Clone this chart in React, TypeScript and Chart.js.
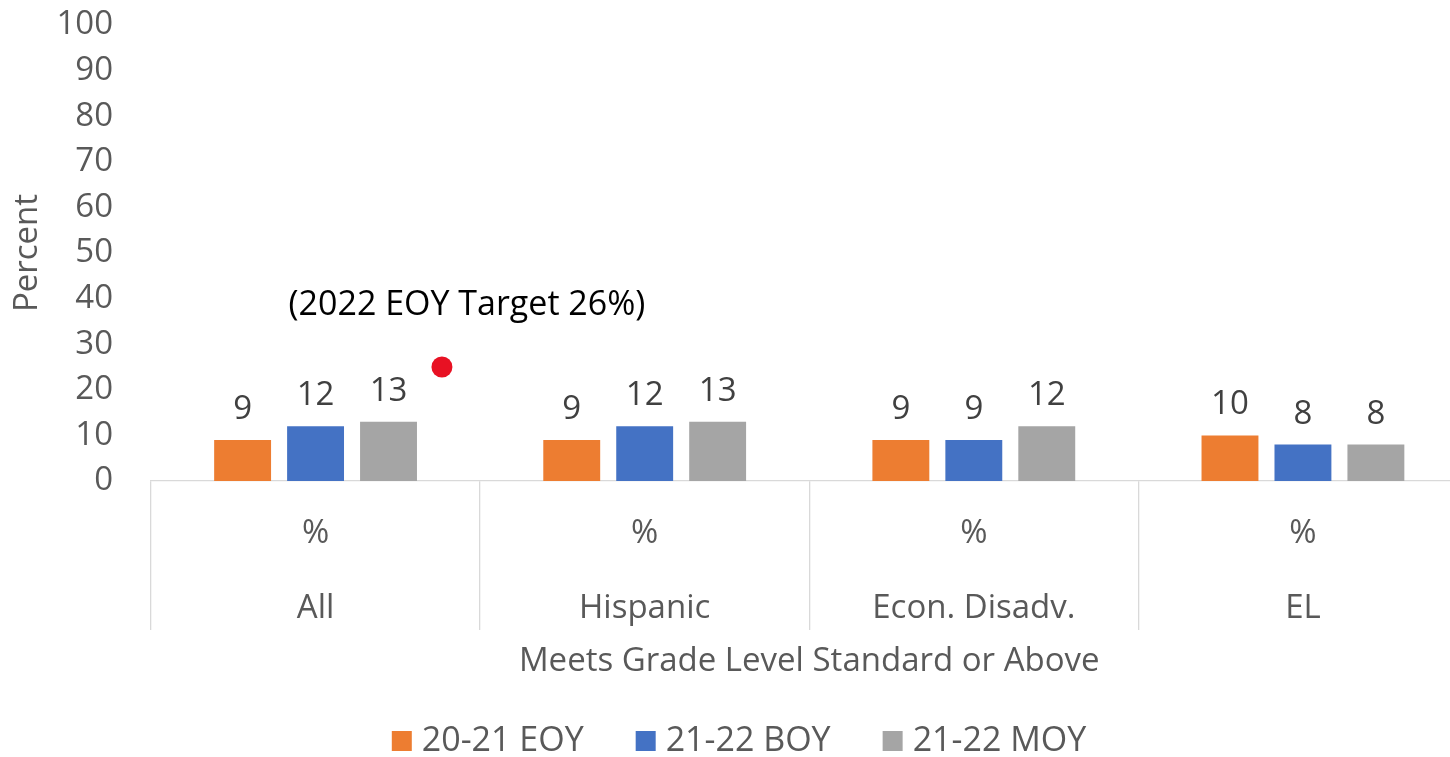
import React, { useEffect, useRef } from "react";
import { Chart, registerables } from "chart.js";

Chart.register(...registerables);

const FONT = "'Open Sans', 'Noto Sans', sans-serif";

const categories = ["All", "Hispanic", "Econ. Disadv.", "EL"];
const subLabel = "%";
const seriesNames = ["20-21 EOY", "21-22 BOY", "21-22 MOY"];
const eoy2021 = [9, 9, 9, 10];
const boy2122 = [12, 12, 9, 8];
const moy2122 = [13, 13, 12, 8];
const seriesColors = ["#ED7D31", "#4472C4", "#A5A5A5"];
const yMin = 0;
const yMax = 100;
const yStep = 10;
const targetValue = 25;
const targetPosition = 0.384;
const targetColor = "#E81123";
const targetLabel = "(2022 EOY Target 26%)";
const xAxisTitle = "Meets Grade Level Standard or Above";
const yAxisTitle = "Percent";

const valueLabels = {
  id: "valueLabels",
  afterDatasetsDraw(chart: any) {
    const ctx = chart.ctx;
    ctx.save();
    ctx.font = `33px ${FONT}`;
    ctx.fillStyle = "#404040";
    ctx.textAlign = "center";
    ctx.textBaseline = "alphabetic";
    chart.data.datasets.forEach((ds: any, di: number) => {
      const meta = chart.getDatasetMeta(di);
      meta.data.forEach((el: any, i: number) => {
        ctx.fillText(String(ds.data[i]), el.x, el.y - 21);
      });
    });
    // target marker and annotation, positioned through the chart's scales
    const xs = chart.scales.x;
    const ys = chart.scales.y;
    const px = xs.getPixelForValue(targetPosition);
    const py = ys.getPixelForValue(targetValue);
    ctx.fillStyle = targetColor;
    ctx.beginPath();
    ctx.arc(px, py, 10.5, 0, Math.PI * 2);
    ctx.fill();
    ctx.fillStyle = "#000000";
    ctx.font = `34px ${FONT}`;
    ctx.fillText(targetLabel, px + 25, py - 52);
    ctx.restore();
  },
};

const customLegend = {
  id: "customLegend",
  afterDraw(chart: any) {
    const ctx = chart.ctx;
    ctx.save();
    ctx.font = `34px ${FONT}`;
    const box = 20;
    const gapText = 10;
    const gapItem = 52;
    const items = chart.data.datasets;
    const widths = items.map((d: any) => box + gapText + ctx.measureText(d.label).width);
    const total = widths.reduce((a: number, b: number) => a + b, 0) + gapItem * (items.length - 1);
    let x = chart.width / 2 - total / 2;
    const cy = 741;
    items.forEach((d: any, i: number) => {
      ctx.fillStyle = d.backgroundColor;
      ctx.fillRect(x, cy - box / 2, box, box);
      ctx.fillStyle = "#595959";
      ctx.textAlign = "left";
      ctx.textBaseline = "middle";
      ctx.fillText(d.label, x + box + gapText, cy);
      x += widths[i] + gapItem;
    });
    ctx.restore();
  },
};

export default function App() {
  const ref = useRef<HTMLCanvasElement | null>(null);
  useEffect(() => {
    if (!ref.current) return;
    const seriesValues = [eoy2021, boy2122, moy2122];
    const chart = new Chart(ref.current, {
      type: "bar",
      data: {
        labels: categories.map((c) => [subLabel, c]),
        datasets: seriesNames.map((name, i) => ({
          label: name,
          data: seriesValues[i],
          backgroundColor: seriesColors[i],
          categoryPercentage: 0.665,
          barPercentage: 0.78,
        })),
      },
      options: {
        responsive: false,
        animation: false,
        layout: { padding: { top: 25, right: 10.5, bottom: 76, left: 0 } },
        plugins: {
          legend: { display: false },
          tooltip: { enabled: false },
        },
        scales: {
          x: {
            type: "category",
            offset: true,
            grid: {
              display: true,
              drawOnChartArea: false,
              drawTicks: true,
              tickLength: 149,
              color: "#D9D9D9",
              lineWidth: 1.3,
              offset: true,
            },
            border: { display: true, color: "#D9D9D9", width: 1.3 },
            ticks: {
              font: { family: FONT, size: 33, lineHeight: 75 / 33 },
              color: "#595959",
              padding: -133.5,
              maxRotation: 0,
              autoSkip: false,
            },
            title: {
              display: true,
              text: xAxisTitle,
              font: { family: FONT, size: 33 },
              color: "#595959",
              padding: { top: 0, bottom: 0 },
            },
            afterFit: (s: any) => {
              s.height = 200;
            },
          },
          y: {
            min: yMin,
            max: yMax,
            ticks: {
              stepSize: yStep,
              padding: 38,
              autoSkip: false,
              font: { family: FONT, size: 33 },
              color: "#595959",
            },
            grid: { display: false, drawTicks: false },
            border: { display: false },
            title: {
              display: true,
              text: yAxisTitle,
              font: { family: FONT, size: 33 },
              color: "#595959",
              padding: { top: 7.6, bottom: 0 },
            },
            afterFit: (s: any) => {
              s.width = 151;
              s.paddingTop = 0;
              s.paddingBottom = 0;
            },
          },
        },
      } as any,
      plugins: [valueLabels, customLegend],
    });
    return () => chart.destroy();
  }, []);

  return (
    <div
      style={{
        position: "fixed",
        left: 0,
        top: 0,
        width: 1450,
        height: 757,
        overflow: "hidden",
        background: "#ffffff",
      }}
    >
      <canvas ref={ref} width={1478} height={757} style={{ width: 1478, height: 757, display: "block" }} />
    </div>
  );
}
